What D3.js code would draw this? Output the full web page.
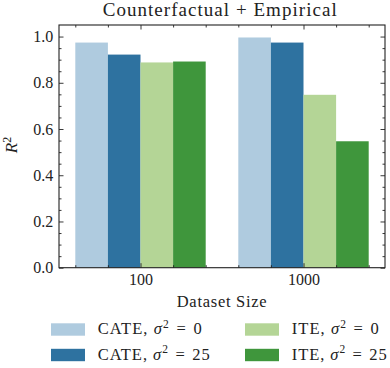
<!DOCTYPE html>
<html><head><meta charset="utf-8">
<script src="https://cdn.jsdelivr.net/npm/d3@7"></script>
<style>
body{margin:0;background:#fff;}
text{font-family:"Liberation Serif","DejaVu Serif",serif;fill:#222;}
</style></head>
<body><svg id="c" width="390" height="368"></svg>
<script>
const groups = ["100", "1000"];
const seriesNames = ["CATE, σ2 = 0", "CATE, σ2 = 25", "ITE, σ2 = 0", "ITE, σ2 = 25"];
const seriesColors = ["#afcbdf", "#2e72a0", "#b4d596", "#3f963c"];
const cate0 = [0.974, 0.996];
const cate25 = [0.922, 0.974];
const ite0 = [0.888, 0.748];
const ite25 = [0.892, 0.547];
const yTicks = [0, 0.2, 0.4, 0.6, 0.8, 1.0];
const series = [cate0, cate25, ite0, ite25];

const svg = d3.select("#c");
const L = 59, R = 385, T = 25, B = 267.7;
const x = d3.scaleLinear().domain([-0.5, 1.5]).range([L, R]);
const y = d3.scaleLinear().domain([0, 1.05]).range([B, T]);
const bw = 0.2;

// bars
series.forEach((vals, si) => {
  svg.selectAll(null).data(vals).enter().append("rect")
    .attr("x", (d, gi) => x(gi + (si - 2) * bw))
    .attr("width", x(bw) - x(0))
    .attr("y", d => y(d))
    .attr("height", d => y(0) - y(d))
    .attr("fill", seriesColors[si]);
});

const minorY = d3.range(0, 1.05, 0.05).filter(v => !yTicks.some(t => Math.abs(t - v) < 1e-6));
const minorX = d3.range(-0.4, 1.5, 0.2).filter(v => Math.abs(v) > 1e-6 && Math.abs(v - 1) > 1e-6);

function tickAxis(axis, g) { g.call(axis); g.select(".domain").remove(); g.selectAll("line").attr("stroke", "#222").attr("stroke-width", 0.9); return g; }
function styleLabels(g) { g.selectAll("text").attr("font-size", null).style("font-size", "16px").style("font-family", '"Liberation Serif",serif').attr("fill", "#222"); }

// left
styleLabels(tickAxis(d3.axisLeft(y).tickValues(yTicks).tickFormat(d3.format(".1f")).tickSizeInner(-4.5).tickPadding(5.7), svg.append("g").attr("transform", `translate(${L},0)`)));
tickAxis(d3.axisLeft(y).tickValues(minorY).tickFormat("").tickSizeInner(-2.5), svg.append("g").attr("transform", `translate(${L},0)`));
// right
tickAxis(d3.axisRight(y).tickValues(yTicks).tickFormat("").tickSizeInner(-4.5), svg.append("g").attr("transform", `translate(${R},0)`));
tickAxis(d3.axisRight(y).tickValues(minorY).tickFormat("").tickSizeInner(-2.5), svg.append("g").attr("transform", `translate(${R},0)`));
// bottom
styleLabels(tickAxis(d3.axisBottom(x).tickValues([0, 1]).tickFormat((d) => groups[d]).tickSizeInner(-4.5).tickPadding(6.2), svg.append("g").attr("transform", `translate(0,${B})`)));
tickAxis(d3.axisBottom(x).tickValues(minorX).tickFormat("").tickSizeInner(-2.5), svg.append("g").attr("transform", `translate(0,${B})`));
// top
tickAxis(d3.axisTop(x).tickValues([0, 1]).tickFormat("").tickSizeInner(-4.5), svg.append("g").attr("transform", `translate(0,${T})`));
tickAxis(d3.axisTop(x).tickValues(minorX).tickFormat("").tickSizeInner(-2.5), svg.append("g").attr("transform", `translate(0,${T})`));

// frame
svg.append("rect").attr("x", L).attr("y", T).attr("width", R - L).attr("height", B - T)
  .attr("fill", "none").attr("stroke", "#222").attr("stroke-width", 1.1);

// title
svg.append("text").attr("x", 219.7).attr("y", 16).attr("text-anchor", "middle")
  .attr("textLength", 234).attr("lengthAdjust", "spacing")
  .style("font-size", "19px").text("Counterfactual + Empirical");

// x label
svg.append("text").attr("x", 221.7).attr("y", 306.7).attr("text-anchor", "middle")
  .attr("textLength", 90).attr("lengthAdjust", "spacing")
  .style("font-size", "16.5px").text("Dataset Size");

// y label
const yl = svg.append("text").attr("transform", `translate(17,145) rotate(-90)`)
  .attr("text-anchor", "middle").style("font-size", "17px");
yl.append("tspan").style("font-style", "italic").text("R");
yl.append("tspan").attr("dy", -6).style("font-size", "12px").text("2");

// legend
const legPos = [[51, 329.5], [51, 355], [245, 329.5], [245, 355]];
const legWidths = [104, 112, 87, 95];
seriesNames.forEach((name, i) => {
  const [lx, ly] = legPos[i];
  svg.append("rect").attr("x", lx).attr("y", ly - 6.2).attr("width", 34).attr("height", 12.4).attr("fill", seriesColors[i]);
  const parts = name.split("σ2");
  const t = svg.append("text").attr("x", lx + 46.7).attr("y", ly + 4.8).style("font-size", "16.5px")
    .attr("textLength", legWidths[i]).attr("lengthAdjust", "spacing");
  t.append("tspan").text(parts[0]);
  t.append("tspan").style("font-style", "italic").text("σ");
  t.append("tspan").attr("dy", -6.5).style("font-size", "11.5px").text("2");
  t.append("tspan").attr("dy", 6.5).text(parts[1].replace(/ = /, "\u2004=\u2004"));
});
</script></body></html>
